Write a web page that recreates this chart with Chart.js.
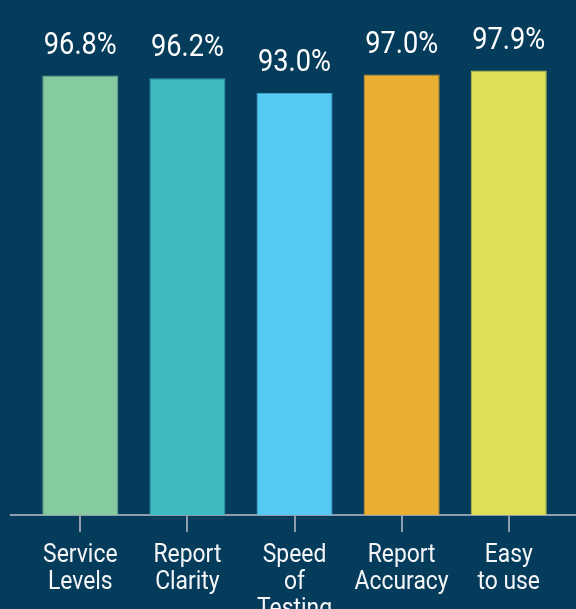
<!DOCTYPE html>
<html>
<head>
<meta charset="utf-8">
<script src="https://cdn.jsdelivr.net/npm/chart.js@4.4.0/dist/chart.umd.min.js"></script>
<style>
  html, body { margin: 0; padding: 0; background: #053b5b; overflow: hidden; }
  canvas { display: block; }
</style>
</head>
<body>
<canvas id="chart" width="576" height="609"></canvas>
<script>
// Chart data
const categories = [
  ["Service", "Levels"],
  ["Report", "Clarity"],
  ["Speed", "of", "Testing"],
  ["Report", "Accuracy"],
  ["Easy", "to use"]
];
const scores = [96.8, 96.2, 93.0, 97.0, 97.9];
const barColors = ["#86cb9f", "#3fbac0", "#56c9f5", "#eaae33", "#dee157"];
const barBorders = ["#6fb28f", "#36a3ad", "#4ab2da", "#cf9a34", "#c4c74f"];

// draw text squeezed horizontally, to get close to a condensed face
function drawCondensed(ctx, text, x, y, sx) {
  ctx.save();
  ctx.translate(x, y);
  ctx.scale(sx, 1);
  ctx.fillText(text, 0, 0);
  ctx.restore();
}

const labelPlugin = {
  id: "condensedLabels",
  afterDraw(chart) {
    const ctx = chart.ctx;
    const meta = chart.getDatasetMeta(0);
    const xScale = chart.scales.x;
    ctx.save();
    ctx.fillStyle = "#ffffff";
    ctx.textAlign = "center";
    ctx.textBaseline = "alphabetic";

    // values above bars
    ctx.font = "32px Roboto";
    meta.data.forEach((bar, i) => {
      drawCondensed(ctx, scores[i].toFixed(1) + "%", bar.x, bar.y - 22, 0.85);
    });

    // category labels under the ticks
    ctx.font = "26px Roboto";
    ctx.fillStyle = "#f4f6f8";
    categories.forEach((lines, i) => {
      const x = xScale.getPixelForValue(i);
      lines.forEach((line, j) => {
        drawCondensed(ctx, line, x, xScale.top + 47 + j * 27, 0.88);
      });
    });
    ctx.restore();
  }
};

new Chart(document.getElementById("chart"), {
  type: "bar",
  data: {
    datasets: [{
      data: scores.map((v, i) => ({ x: i, y: v })),
      backgroundColor: barColors,
      borderColor: barBorders,
      borderWidth: 1,
      categoryPercentage: 1,
      barPercentage: 0.71
    }]
  },
  options: {
    responsive: false,
    animation: false,
    layout: { padding: { top: 61, left: 11, right: 0, bottom: 0 } },
    plugins: { legend: { display: false }, tooltip: { enabled: false } },
    scales: {
      x: {
        type: "linear",
        offset: false,
        min: -0.647,
        max: 4.628,
        afterBuildTicks: scale => { scale.ticks = categories.map((c, i) => ({ value: i })); },
        afterFit: scale => { scale.height = 94; },
        ticks: { display: false },
        grid: { offset: false, drawOnChartArea: false, drawTicks: true, tickLength: 17, color: "#8f9db0", lineWidth: 2 },
        border: { display: true, color: "#8f9db0", width: 2 }
      },
      y: {
        display: false,
        min: 0,
        max: 100
      }
    }
  },
  plugins: [labelPlugin]
});
</script>
</body>
</html>
